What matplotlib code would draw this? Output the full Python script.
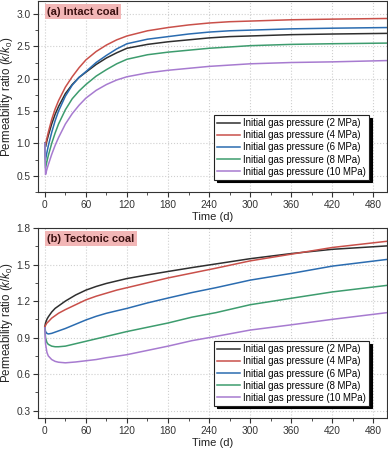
import matplotlib
matplotlib.use("Agg")
import matplotlib.pyplot as plt
from matplotlib.ticker import MultipleLocator

plt.rcParams['font.family'] = ['Liberation Sans', 'DejaVu Sans']
plt.rcParams['mathtext.fontset'] = 'custom'
plt.rcParams['mathtext.rm'] = 'Liberation Sans'
plt.rcParams['mathtext.it'] = 'Liberation Sans:italic'

labels = ["Initial gas pressure (2 MPa)", "Initial gas pressure (4 MPa)",
          "Initial gas pressure (6 MPa)", "Initial gas pressure (8 MPa)",
          "Initial gas pressure (10 MPa)"]
colors = ['#2f2f2f', '#c9504a', '#2b6cb0', '#3d9c6e', '#a77bd0']

# (a) Intact coal
t_a = [0, 1, 3, 5, 10, 15, 20, 30, 40, 50, 60, 75, 90, 105, 120, 150, 180, 210, 240, 270, 300, 360, 420, 500]
a_2 = [1.0, 0.95, 1.04, 1.12, 1.30, 1.45, 1.57, 1.77, 1.91, 2.02, 2.10, 2.22, 2.32, 2.40, 2.47, 2.53, 2.57, 2.60, 2.63, 2.65, 2.66, 2.68, 2.69, 2.70]
a_4 = [1.0, 0.98, 1.08, 1.17, 1.37, 1.53, 1.66, 1.87, 2.03, 2.17, 2.29, 2.42, 2.52, 2.60, 2.66, 2.74, 2.79, 2.83, 2.86, 2.88, 2.89, 2.91, 2.92, 2.93]
a_6 = [1.0, 0.75, 0.86, 0.96, 1.17, 1.35, 1.50, 1.73, 1.90, 2.02, 2.11, 2.25, 2.36, 2.46, 2.54, 2.61, 2.65, 2.69, 2.72, 2.74, 2.75, 2.77, 2.78, 2.79]
a_8 = [1.0, 0.62, 0.72, 0.81, 1.00, 1.16, 1.30, 1.52, 1.69, 1.81, 1.91, 2.04, 2.14, 2.23, 2.30, 2.37, 2.41, 2.44, 2.47, 2.49, 2.51, 2.53, 2.54, 2.55]
a_10 = [1.0, 0.52, 0.60, 0.67, 0.83, 0.97, 1.09, 1.30, 1.46, 1.59, 1.70, 1.82, 1.91, 1.98, 2.03, 2.09, 2.13, 2.16, 2.19, 2.21, 2.23, 2.25, 2.26, 2.28]

# (b) Tectonic coal
t_b = [0, 1, 3, 5, 10, 15, 20, 30, 45, 60, 75, 90, 105, 120, 150, 180, 215, 250, 300, 360, 420, 500]
b_2 = [0.99, 1.02, 1.05, 1.07, 1.11, 1.14, 1.16, 1.20, 1.25, 1.29, 1.32, 1.345, 1.365, 1.385, 1.415, 1.443, 1.475, 1.505, 1.548, 1.59, 1.625, 1.653]
b_4 = [0.99, 1.00, 1.02, 1.03, 1.06, 1.08, 1.10, 1.13, 1.17, 1.21, 1.24, 1.265, 1.29, 1.31, 1.35, 1.39, 1.43, 1.47, 1.53, 1.585, 1.64, 1.691]
b_6 = [0.98, 0.95, 0.935, 0.93, 0.935, 0.945, 0.955, 0.975, 1.01, 1.045, 1.075, 1.10, 1.12, 1.14, 1.185, 1.225, 1.27, 1.31, 1.372, 1.427, 1.487, 1.542]
b_8 = [0.98, 0.90, 0.86, 0.845, 0.83, 0.825, 0.825, 0.83, 0.85, 0.87, 0.89, 0.91, 0.93, 0.95, 0.985, 1.02, 1.068, 1.105, 1.17, 1.223, 1.275, 1.329]
b_10 = [0.98, 0.85, 0.78, 0.75, 0.72, 0.705, 0.698, 0.693, 0.70, 0.71, 0.72, 0.735, 0.747, 0.76, 0.795, 0.83, 0.875, 0.91, 0.962, 1.005, 1.05, 1.105]

fig = plt.figure(figsize=(3.88, 4.49), dpi=100)
W, H = 388, 449
ax1 = fig.add_axes([38 / W, 1 - 192 / H, (387 - 38) / W, (192 - 1) / H])
ax2 = fig.add_axes([38 / W, 1 - 418 / H, (387 - 38) / W, (418 - 228) / H])

def style(ax, ylim, ymaj, ymin, tag):
    ax.set_xlim(-10, 500)
    ax.set_ylim(*ylim)
    ax.xaxis.set_major_locator(MultipleLocator(60))
    ax.xaxis.set_minor_locator(MultipleLocator(30))
    ax.yaxis.set_major_locator(MultipleLocator(ymaj))
    ax.yaxis.set_minor_locator(MultipleLocator(ymin))
    ax.tick_params(which='major', direction='out', length=3.5, width=0.8,
                   labelsize=7.3, colors='#333333', pad=2)
    ax.tick_params(which='minor', direction='out', length=2, width=0.6, colors='#333333')
    ax.grid(True, which='major', color='#cfcfcf', linestyle=':', linewidth=0.8)
    for s in ax.spines.values():
        s.set_color('#333333')
        s.set_linewidth(0.8)
    ax.set_xlabel('Time (d)', fontsize=8, labelpad=2, color='#222222')
    ax.set_ylabel('Permeability ratio ($k$/$k_0$)', fontsize=8.3, color='#222222')
    ax.yaxis.set_label_coords(-0.066, 0.5)
    ax.text(0.026, 0.97, tag, transform=ax.transAxes, ha='left', va='top',
            fontsize=8, fontweight='bold', color='#3a1010',
            bbox=dict(boxstyle='square,pad=0.22', facecolor='#f2b6b6', edgecolor='none'))
    leg = ax.legend(loc='lower right', bbox_to_anchor=(0.948, 0.065), fontsize=6.9,
                    frameon=True, fancybox=False, shadow={'color': 'black', 'alpha': 1.0},
                    handlelength=2.4, handletextpad=0.3, labelspacing=0.22,
                    borderpad=0.3, borderaxespad=0.0)
    leg.get_frame().set_edgecolor('#222222')
    leg.get_frame().set_linewidth(0.8)

for ys, c, l in zip([a_2, a_4, a_6, a_8, a_10], colors, labels):
    ax1.plot(t_a, ys, color=c, lw=1.1, label=l)
for ys, c, l in zip([b_2, b_4, b_6, b_8, b_10], colors, labels):
    ax2.plot(t_b, ys, color=c, lw=1.1, label=l)

style(ax1, (0.25, 3.2), 0.5, 0.25, '(a) Intact coal')
style(ax2, (0.24, 1.8), 0.3, 0.15, '(b) Tectonic coal')

fig.savefig('out.png', dpi=100)
